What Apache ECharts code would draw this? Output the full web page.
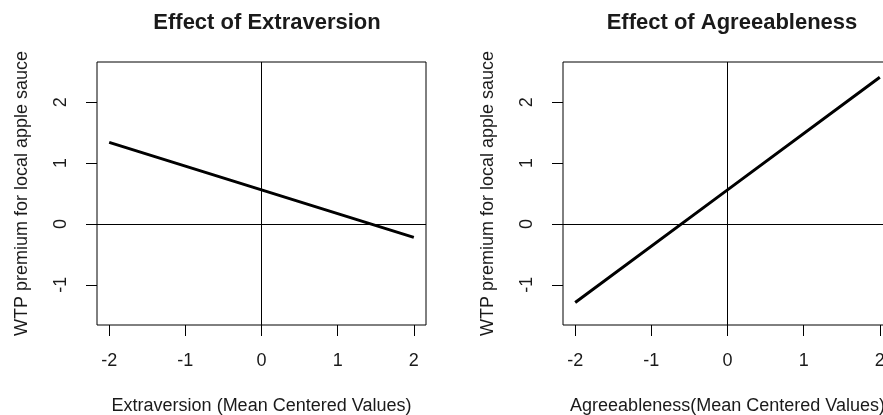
<!DOCTYPE html>
<html>
<head>
<meta charset="utf-8">
<script src="https://cdn.jsdelivr.net/npm/echarts@6/dist/echarts.min.js"></script>
<style>
  html, body { margin: 0; padding: 0; background: #fff; }
  #chart { width: 883px; height: 415px; }
</style>
</head>
<body>
<div id="chart"></div>
<script>
// values
var xValues = [-2, 0, 2];
var extraversionY = [1.34, 0.56, -0.22];
var agreeablenessY = [-1.29, 0.56, 2.41];
var xTicks = [-2, -1, 0, 1, 2];
var yTicks = [-1, 0, 1, 2];
var titles = ['Effect of Extraversion', 'Effect of Agreeableness'];
var xNames = ['Extraversion (Mean Centered Values)', 'Agreeableness(Mean Centered Values)'];
var yName = 'WTP premium for local apple sauce';

var font = 'Liberation Sans, Arial, sans-serif';
var txt = '#1a1a1a';

function pairs(ys) {
    return xValues.map(function (x, i) { return [x, ys[i]]; });
}

function xAxis(i) {
    return {
        type: 'value',
        gridIndex: i,
        min: -2.16,
        max: 2.16,
        name: xNames[i],
        nameLocation: 'middle',
        nameGap: 72,
        nameTextStyle: { color: txt, fontSize: 18, fontFamily: font },
        axisLine: { show: false, onZero: false },
        splitLine: { show: false },
        axisTick: { show: true, inside: false, length: 11, customValues: xTicks,
            lineStyle: { color: '#000', width: 1 } },
        axisLabel: { customValues: xTicks, margin: 27, color: txt, fontSize: 18, fontFamily: font }
    };
}

function yAxis(i) {
    return {
        type: 'value',
        gridIndex: i,
        min: -1.66,
        max: 2.66,
        name: yName,
        nameLocation: 'middle',
        nameGap: 66,
        nameTextStyle: { color: txt, fontSize: 18, fontFamily: font },
        axisLine: { show: false, onZero: false },
        splitLine: { show: false },
        axisTick: { show: true, inside: false, length: 11, customValues: yTicks,
            lineStyle: { color: '#000', width: 1 } },
        axisLabel: { customValues: yTicks, rotate: 90, margin: 27, color: txt, fontSize: 18, fontFamily: font }
    };
}

function series(i, ys) {
    return {
        type: 'line',
        xAxisIndex: i,
        yAxisIndex: i,
        data: pairs(ys),
        symbol: 'none',
        lineStyle: { color: '#000', width: 3 },
        markLine: {
            silent: true,
            symbol: ['none', 'none'],
            label: { show: false },
            lineStyle: { color: '#000', width: 1, type: 'solid' },
            data: [{ xAxis: 0 }, { yAxis: 0 }]
        }
    };
}

var chart = echarts.init(document.getElementById('chart'));
var option = {
    animation: false,
    backgroundColor: '#fff',
    title: [
        { text: titles[0], left: 262, top: 7, textAlign: 'center',
          textStyle: { color: txt, fontSize: 22, fontWeight: 'bold', fontFamily: font } },
        { text: titles[1], left: 727, top: 7, textAlign: 'center',
          textStyle: { color: txt, fontSize: 22, fontWeight: 'bold', fontFamily: font } }
    ],
    grid: [
        { left: 97, top: 62, width: 329, height: 263, show: true, borderColor: '#000', borderWidth: 1,
          outerBoundsMode: 'none' },
        { left: 563, top: 62, width: 329, height: 263, show: true, borderColor: '#000', borderWidth: 1,
          outerBoundsMode: 'none' }
    ],
    xAxis: [xAxis(0), xAxis(1)],
    yAxis: [yAxis(0), yAxis(1)],
    series: [series(0, extraversionY), series(1, agreeablenessY)]
};
chart.setOption(option);
</script>
</body>
</html>
